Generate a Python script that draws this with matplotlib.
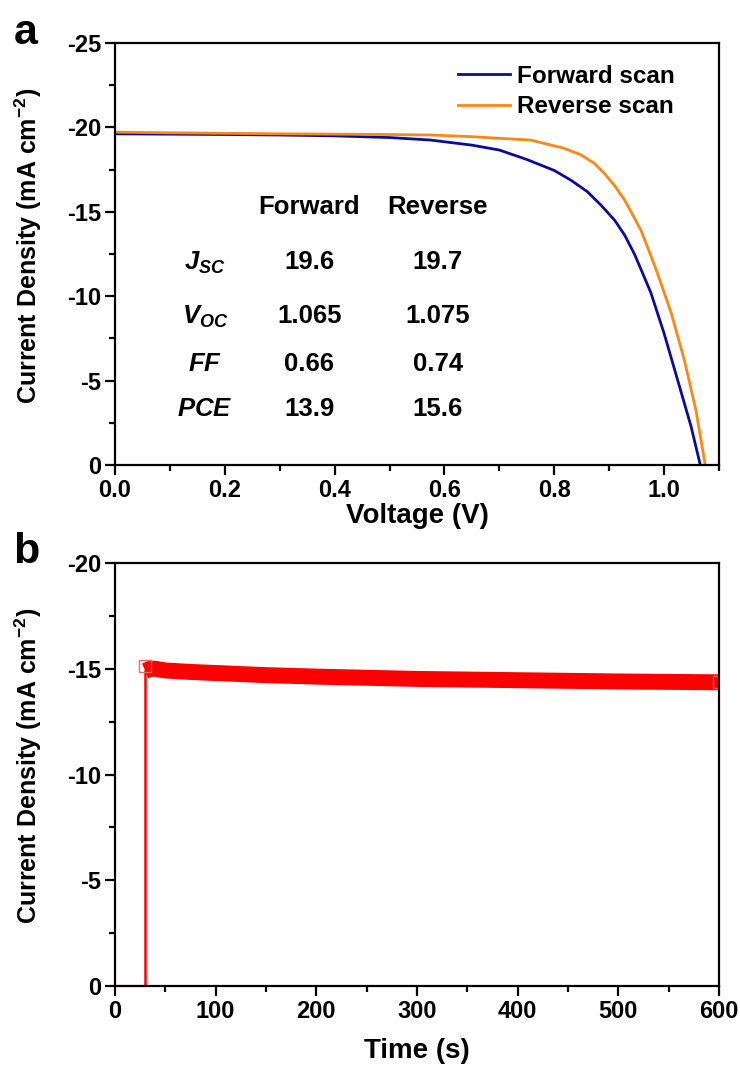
import matplotlib

matplotlib.use("Agg")
import matplotlib.pyplot as plt
from matplotlib.ticker import FormatStrFormatter, MultipleLocator

plt.rcParams["font.family"] = ["Liberation Sans", "DejaVu Sans"]
plt.rcParams["font.weight"] = "bold"
plt.rcParams["axes.unicode_minus"] = False
plt.rcParams["mathtext.fontset"] = "custom"
plt.rcParams["mathtext.rm"] = "Liberation Sans:bold"
plt.rcParams["mathtext.bf"] = "Liberation Sans:bold"
plt.rcParams["mathtext.it"] = "Liberation Sans:bold:italic"

# panel a: J-V scans
fwd_v = [0.0, 0.1, 0.2, 0.3, 0.4, 0.5, 0.575, 0.65, 0.7, 0.75, 0.8, 0.83,
         0.86, 0.885, 0.91, 0.928, 0.946, 0.961, 0.976, 1.0, 1.025, 1.049,
         1.066]
fwd_j = [-19.62, -19.6, -19.58, -19.55, -19.5, -19.4, -19.25, -18.95, -18.66,
         -18.1, -17.45, -16.88, -16.2, -15.4, -14.5, -13.63, -12.5, -11.36,
         -10.2, -7.8, -5.0, -2.3, 0.0]
rev_v = [0.0, 0.1, 0.2, 0.3, 0.4, 0.5, 0.575, 0.65, 0.757, 0.818, 0.849,
         0.873, 0.891, 0.909, 0.928, 0.943, 0.958, 0.973, 0.988, 1.013, 1.037,
         1.058, 1.075]
rev_j = [-19.72, -19.68, -19.65, -19.62, -19.6, -19.58, -19.55, -19.45,
         -19.25, -18.76, -18.37, -17.87, -17.28, -16.59, -15.7, -14.81, -13.9,
         -12.64, -11.35, -9.0, -6.2, -3.25, 0.0]

table_rows = [r"$\mathit{J}_{\mathit{SC}}$", r"$\mathit{V}_{\mathit{OC}}$",
              r"$\mathit{FF}$", r"$\mathit{PCE}$"]
table_fwd = ["19.6", "1.065", "0.66", "13.9"]
table_rev = ["19.7", "1.075", "0.74", "15.6"]

# panel b: steady-state current at max power point
off_t = [0, 30]
off_j = [0.0, 0.0]
mpp_t = [30, 35, 40, 50, 75, 100, 150, 200, 300, 400, 500, 600]
mpp_j = [-14.9, -15.0, -15.0, -14.92, -14.85, -14.8, -14.7, -14.63, -14.52,
         -14.46, -14.4, -14.36]

BLUE = "#0c0c9a"
ORANGE = "#ff8612"
RED = "#ff0000"
TICK_FS = 17
TABLE_FS = 18.5
YLABEL = r"Current Density (mA cm$^{-2}$)"


def _style(ax):
    for side in ax.spines.values():
        side.set_linewidth(1.6)
    ax.tick_params(which="both", direction="out", width=1.6,
                   labelsize=TICK_FS, top=False, right=False, pad=3)
    ax.tick_params(which="major", length=7)
    ax.tick_params(which="minor", length=4)
    for lab in ax.get_xticklabels() + ax.get_yticklabels():
        lab.set_fontweight("bold")


fig = plt.figure(figsize=(7.4, 10.7), dpi=100)
ax_a = fig.add_axes([0.1554, 0.5654, 0.8162, 0.3944])
ax_b = fig.add_axes([0.1554, 0.0785, 0.8162, 0.3953])

ax_a.plot(fwd_v, fwd_j, color=BLUE, lw=2.0, label="Forward scan")
ax_a.plot(rev_v, rev_j, color=ORANGE, lw=2.0, label="Reverse scan")
ax_a.set_xlim(0, 1.1)
ax_a.set_ylim(0, -25)
ax_a.xaxis.set_major_locator(MultipleLocator(0.2))
ax_a.xaxis.set_minor_locator(MultipleLocator(0.1))
ax_a.yaxis.set_major_locator(MultipleLocator(5))
ax_a.yaxis.set_minor_locator(MultipleLocator(2.5))
ax_a.xaxis.set_major_formatter(FormatStrFormatter("%.1f"))
ax_a.set_xlabel("Voltage (V)", fontsize=20, fontweight="bold")
ax_a.set_ylabel(YLABEL, fontsize=18, fontweight="bold")
ax_a.xaxis.set_label_coords(0.5, -0.09)
ax_a.yaxis.set_label_coords(-0.118, 0.52)
_style(ax_a)
leg = ax_a.legend(loc="upper left", bbox_to_anchor=(0.551, 0.972),
                  borderaxespad=0, frameon=False, fontsize=17.5,
                  handlelength=2.14, handletextpad=0.3, labelspacing=0.32)
for txt in leg.get_texts():
    txt.set_fontweight("bold")

col_x = [0.164, 0.354, 0.588]
row_y = [-12.0, -8.8, -6.0, -3.3]
ax_a.text(col_x[1], -15.3, "Forward", ha="center", va="center",
          fontsize=TABLE_FS, fontweight="bold")
ax_a.text(col_x[2], -15.3, "Reverse", ha="center", va="center",
          fontsize=TABLE_FS, fontweight="bold")
for y, name, f, r in zip(row_y, table_rows, table_fwd, table_rev):
    ax_a.text(col_x[0], y, name, ha="center", va="center", fontsize=TABLE_FS)
    ax_a.text(col_x[1], y, f, ha="center", va="center", fontsize=TABLE_FS,
              fontweight="bold")
    ax_a.text(col_x[2], y, r, ha="center", va="center", fontsize=TABLE_FS,
              fontweight="bold")

ax_b.plot(off_t, off_j, color=RED, lw=1.5, clip_on=False)
ax_b.plot([mpp_t[0], mpp_t[0]], [off_j[-1], mpp_j[0]], color=RED, lw=1.8)
ax_b.plot(mpp_t, mpp_j, color=RED, lw=11.5, solid_capstyle="butt")
ax_b.plot([mpp_t[0], mpp_t[-1]], [mpp_j[0] - 0.25, mpp_j[-1]], ls="none",
          marker="s", ms=9, mfc="none", mec="#ff6060", mew=1.0)
ax_b.set_xlim(0, 600)
ax_b.set_ylim(0, -20)
ax_b.xaxis.set_major_locator(MultipleLocator(100))
ax_b.xaxis.set_minor_locator(MultipleLocator(50))
ax_b.yaxis.set_major_locator(MultipleLocator(5))
ax_b.yaxis.set_minor_locator(MultipleLocator(2.5))
ax_b.set_xlabel("Time (s)", fontsize=20, fontweight="bold")
ax_b.set_ylabel(YLABEL, fontsize=18, fontweight="bold")
ax_b.xaxis.set_label_coords(0.5, -0.123)
ax_b.yaxis.set_label_coords(-0.118, 0.52)
_style(ax_b)

fig.text(0.018, 0.988, "a", fontsize=31, fontweight="bold", va="top")
fig.text(0.018, 0.503, "b", fontsize=31, fontweight="bold", va="top")

fig.savefig("out.png", dpi=100)
plt.close(fig)
